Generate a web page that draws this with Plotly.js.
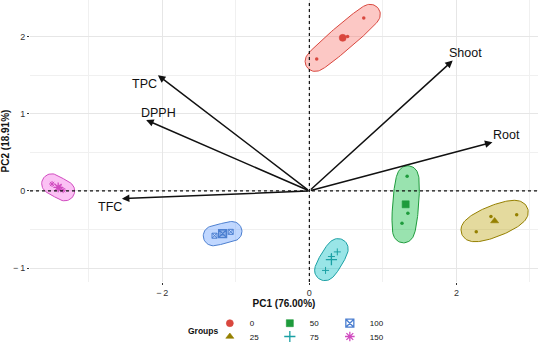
<!DOCTYPE html>
<html>
<head>
<meta charset="utf-8">
<script src="https://cdn.plot.ly/plotly-3.0.1.min.js"></script>
<style>
html,body{margin:0;padding:0;background:#ffffff;}
#chart{width:550px;height:351px;}
</style>
</head>
<body>
<div id="chart"></div>
<script>
// ---------------- data ----------------
const groups = ['0', '25', '50', '75', '100', '150'];
const pc1_g0 = [0.10, 0.52, 0.74];
const pc2_g0 = [1.71, 2.00, 2.24];
const pc1_g25 = [2.27, 2.47, 2.82];
const pc2_g25 = [-0.53, -0.33, -0.31];
const pc1_g50 = [1.33, 1.34, 1.26];
const pc2_g50 = [0.19, -0.29, -0.42];
const pc1_g75 = [0.38, 0.30, 0.22];
const pc2_g75 = [-0.79, -0.85, -1.03];
const pc1_g100 = [-1.29, -1.18, -1.07];
const pc2_g100 = [-0.58, -0.55, -0.53];
const pc1_g150 = [-3.50, -3.40, -3.35];
const pc2_g150 = [0.09, 0.04, 0.01];

const variables = ['TPC', 'DPPH', 'TFC', 'Shoot', 'Root'];
const loadPC1 = [-2.06, -2.22, -2.55, 1.95, 2.49];
const loadPC2 = [1.50, 0.92, -0.10, 1.69, 0.63];

const xTickVals = [-2, 0, 2];
const yTickVals = [-1, 0, 1, 2];
const xTitle = 'PC1 (76.00%)';
const yTitle = 'PC2 (18.91%)';
const legendTitle = 'Groups';

// ---------------- style ----------------
const FONT = 'Liberation Sans, Arial, Helvetica, sans-serif';
const edge = {'0':'#D9473E','25':'#958000','50':'#1E9B3C','75':'#1AA0A4','100':'#4C7FD0','150':'#D14BC0'};
const fillc = {'0':'rgba(248,118,109,0.40)','25':'rgba(183,159,0,0.38)','50':'rgba(0,186,56,0.40)','75':'rgba(0,191,196,0.40)','100':'rgba(97,156,255,0.40)','150':'rgba(245,100,227,0.40)'};
const sym = {'0':'circle','25':'triangle-up','50':'square','75':'cross-thin-open','100':'square-x-open','150':'asterisk-open'};
const legendOf = {'0':'legend','50':'legend','100':'legend','25':'legend2','75':'legend2','150':'legend2'};
const labelShift = {TPC:[-13,-9], DPPH:[12,7], TFC:[-12,-8], Shoot:[13,8], Root:[14,7]};
const SX = 73.5, SY = 78, PAD = 10; // px per unit, outline padding px

const dataX = {'0':pc1_g0,'25':pc1_g25,'50':pc1_g50,'75':pc1_g75,'100':pc1_g100,'150':pc1_g150};
const dataY = {'0':pc2_g0,'25':pc2_g25,'50':pc2_g50,'75':pc2_g75,'100':pc2_g100,'150':pc2_g150};

function mean(a){ return a.reduce((s,v)=>s+v,0)/a.length; }
function cross(o,a,b){ return (a[0]-o[0])*(b[1]-o[1])-(a[1]-o[1])*(b[0]-o[0]); }
function convexHull(pts){
  pts = pts.slice().sort((a,b)=>a[0]===b[0]?a[1]-b[1]:a[0]-b[0]);
  const lower=[], upper=[];
  for (const p of pts){ while(lower.length>=2 && cross(lower[lower.length-2],lower[lower.length-1],p)<=0) lower.pop(); lower.push(p); }
  for (let i=pts.length-1;i>=0;i--){ const p=pts[i]; while(upper.length>=2 && cross(upper[upper.length-2],upper[upper.length-1],p)<=0) upper.pop(); upper.push(p); }
  upper.pop(); lower.pop();
  return lower.concat(upper);
}
// Steiner circum-ellipse of the group points, expanded by PAD pixels
function markOutline(xs, ys){
  const P = xs.map((v,i)=>[v*SX, ys[i]*SY]);
  const gx = mean(P.map(p=>p[0])), gy = mean(P.map(p=>p[1]));
  const ux = P[0][0]-gx, uy = P[0][1]-gy;
  const vx = (P[2][0]-P[1][0])/Math.sqrt(3), vy = (P[2][1]-P[1][1])/Math.sqrt(3);
  const pts = [];
  for (let i=0;i<90;i++){
    const t = i/90*2*Math.PI;
    const ex = gx+ux*Math.cos(t)+vx*Math.sin(t), ey = gy+uy*Math.cos(t)+vy*Math.sin(t);
    for (let j=0;j<48;j++){ const a=j/48*2*Math.PI; pts.push([ex+PAD*Math.cos(a), ey+PAD*Math.sin(a)]); }
  }
  const h = convexHull(pts); h.push(h[0]);
  return {x:h.map(p=>p[0]/SX), y:h.map(p=>p[1]/SY)};
}

const traces = [];
// outlines
groups.forEach(g=>{
  const o = markOutline(dataX[g], dataY[g]);
  traces.push({type:'scatter', mode:'lines', x:o.x, y:o.y, fill:'toself', fillcolor:fillc[g],
    line:{color:edge[g], width:1}, hoverinfo:'skip', showlegend:false});
});
// points
groups.forEach(g=>{
  const open = sym[g].indexOf('open')>=0;
  traces.push({type:'scatter', mode:'markers', x:dataX[g], y:dataY[g], showlegend:false, hoverinfo:'skip',
    marker:{symbol: open ? sym[g] : 'circle', size: open?5:3.5, color:edge[g], line:{color:edge[g], width: open?1:0}}});
});
// centroids (legend entries)
groups.forEach(g=>{
  const open = sym[g].indexOf('open')>=0;
  traces.push({type:'scatter', mode:'markers', x:[mean(dataX[g])], y:[mean(dataY[g])], name:g,
    legend: legendOf[g], hoverinfo:'skip',
    marker:{symbol:sym[g], size: open?8:7, color:edge[g], line:{color:edge[g], width: open?1.3:0.6}}});
});

const annotations = [];
variables.forEach((v,i)=>{
  annotations.push({x:loadPC1[i], y:loadPC2[i], ax:0, ay:0, xref:'x', yref:'y', axref:'x', ayref:'y',
    text:'', showarrow:true, arrowhead:2, arrowsize:1, arrowwidth:1.5, arrowcolor:'#111111', standoff:0});
  annotations.push({x:loadPC1[i], y:loadPC2[i], xref:'x', yref:'y', text:v, showarrow:false,
    xshift:labelShift[v][0], yshift:labelShift[v][1], font:{family:FONT, size:12.5, color:'#111111'}});
});
annotations.push({xref:'paper', yref:'paper', x:0.3415, y:-0.172, text:'<b>'+legendTitle+'</b>', showarrow:false,
  xanchor:'center', yanchor:'middle', font:{family:FONT, size:8.5, color:'#111111'}});

const legendBase = {orientation:'h', xanchor:'left', yanchor:'middle', x:0.354,
  font:{family:FONT, size:8, color:'#111111'}, bgcolor:'rgba(0,0,0,0)', entrywidth:15, entrywidthmode:'pixels',
  itemclick:false, itemdoubleclick:false};

const tickText = v => v<0 ? '\u2212\u2009'+Math.abs(v) : String(v);

const layout = {
  width:550, height:351,
  margin:{l:30, r:12, t:0, b:66},
  paper_bgcolor:'#ffffff', plot_bgcolor:'#ffffff',
  showlegend:true,
  legend: Object.assign({}, legendBase, {y:-0.146}),
  legend2: Object.assign({}, legendBase, {y:-0.195}),
  xaxis:{range:[-3.80, 3.11], tickvals:xTickVals, ticktext:xTickVals.map(tickText),
    showgrid:true, gridcolor:'#e6e6e6', gridwidth:1, zeroline:false, showline:false,
    minor:{dtick:1, tick0:1, showgrid:true, gridcolor:'#f0f0f0', gridwidth:1},
    ticks:'outside', ticklen:2, tickcolor:'#333333', tickwidth:1,
    tickfont:{family:FONT, size:9, color:'#333333'}, automargin:false,
    title:{text:'<b>'+xTitle+'</b>', font:{family:FONT, size:10, color:'#111111'}, standoff:2}},
  yaxis:{range:[-1.18, 2.474], tickvals:yTickVals, ticktext:yTickVals.map(tickText),
    showgrid:true, gridcolor:'#e6e6e6', gridwidth:1, zeroline:false, showline:false,
    minor:{dtick:0.5, tick0:0.5, showgrid:true, gridcolor:'#f0f0f0', gridwidth:1},
    ticks:'outside', ticklen:2, tickcolor:'#333333', tickwidth:1,
    tickfont:{family:FONT, size:9, color:'#333333'}, automargin:false,
    title:{text:'<b>'+yTitle+'</b>', font:{family:FONT, size:10, color:'#111111'}, standoff:2}},
  shapes:[
    {type:'line', xref:'x', yref:'paper', x0:0, x1:0, y0:0, y1:1, line:{color:'#111111', width:1.2, dash:'3px,3px'}},
    {type:'line', xref:'paper', yref:'y', x0:0, x1:1, y0:0, y1:0, line:{color:'#111111', width:1.2, dash:'3px,3px'}}
  ],
  annotations: annotations
};

Plotly.newPlot('chart', traces, layout, {displayModeBar:false, staticPlot:true});
</script>
</body>
</html>
